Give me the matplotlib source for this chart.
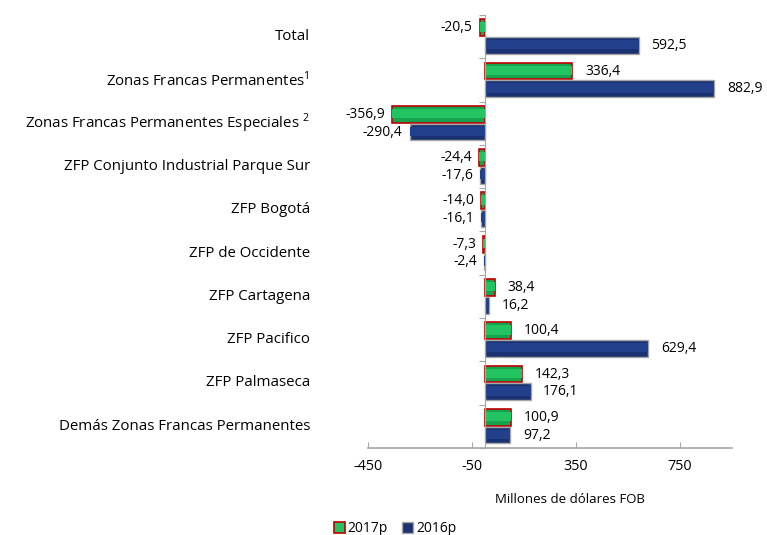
import matplotlib
matplotlib.use("Agg")
import matplotlib.pyplot as plt
from matplotlib.transforms import blended_transform_factory
from matplotlib.patches import Patch
import numpy as np

categories = ["Total",
              "Zonas Francas Permanentes$^{1}$",
              "Zonas Francas Permanentes Especiales $^{2}$",
              "ZFP Conjunto Industrial Parque Sur",
              "ZFP Bogotá",
              "ZFP de Occidente",
              "ZFP Cartagena",
              "ZFP Pacifico",
              "ZFP Palmaseca",
              "Demás Zonas Francas Permanentes"]
vals_2017 = [-20.5, 336.4, -356.9, -24.4, -14.0, -7.3, 38.4, 100.4, 142.3, 100.9]
vals_2016 = [592.5, 882.9, -290.4, -17.6, -16.1, -2.4, 16.2, 629.4, 176.1, 97.2]
xticks = [-450, -50, 350, 750]

plt.rcParams['font.family'] = ['Open Sans', 'DejaVu Sans']
plt.rcParams['mathtext.fontset'] = 'custom'
plt.rcParams['mathtext.rm'] = 'Open Sans'

fig = plt.figure(figsize=(7.67, 5.35), dpi=100)
ax = fig.add_axes([0.48, 0.163, 0.474, 0.809])

y = np.arange(len(categories))
h = 0.39
green = '#16A24F'
green_hi = '#22C462'
blue = '#1A3272'
blue_hi = '#22408C'

y17 = y - h / 2 - 0.01
y16 = y + h / 2 + 0.01
ax.barh(y17, vals_2017, height=h, color=green, edgecolor='#C00000', linewidth=1.2, label='2017p')
ax.barh(y16, vals_2016, height=h, color=blue, edgecolor='#A6A6A6', linewidth=1.0, label='2016p')
# lighter band to mimic the bevelled bars
ax.barh(y17 - h * 0.05, vals_2017, height=h * 0.55, color=green_hi, linewidth=0)
ax.barh(y16 - h * 0.05, vals_2016, height=h * 0.55, color=blue_hi, linewidth=0)

def fmt(v):
    return f"{v:.1f}".replace('.', ',')

for yy, v in zip(y17, vals_2017):
    ax.annotate(fmt(v), (v, yy), xytext=(9 if v >= 0 else -5, 0), textcoords='offset points',
                ha='left' if v >= 0 else 'right', va='center', fontsize=10)
for yy, v in zip(y16, vals_2016):
    ax.annotate(fmt(v), (v, yy), xytext=(9 if v >= 0 else -5, 0), textcoords='offset points',
                ha='left' if v >= 0 else 'right', va='center', fontsize=10)

# category labels on the left
trans = blended_transform_factory(ax.transAxes, ax.transData)
for yy, c in zip(y, categories):
    ax.text(-0.16, yy, c, transform=trans, ha='right', va='center', fontsize=10.8)

ax.set_xlim(-450, 950)
ax.set_ylim(len(categories) - 0.5, -0.5)
ax.set_xticks(xticks)
ax.set_xticklabels([str(t) for t in xticks], fontsize=10.4)
ax.tick_params(axis='x', direction='in', length=4, color='#A6A6A6', pad=8)

ax.spines['left'].set_position(('data', 0))
ax.set_yticks(np.arange(len(categories) + 1) - 0.5)
ax.set_yticklabels([])
ax.tick_params(axis='y', direction='out', length=4, color='#A6A6A6')
for s in ['top', 'right']:
    ax.spines[s].set_visible(False)
ax.spines['left'].set_color('#A6A6A6')
ax.spines['bottom'].set_color('#A6A6A6')
ax.spines['bottom'].set_linewidth(1.2)

ax.set_xlabel('Millones de dólares FOB', fontsize=9.5)
ax.xaxis.set_label_coords(0.555, -0.105)

handles = [Patch(facecolor=green_hi, edgecolor='#C00000', linewidth=1.2),
           Patch(facecolor=blue, edgecolor='#A6A6A6')]
fig.legend(handles, ['2017p', '2016p'], loc='center', bbox_to_anchor=(395 / 767, 0.012),
           ncol=2, frameon=False, fontsize=10, handlelength=0.8, handleheight=0.8,
           handletextpad=0.2, columnspacing=1.0)

fig.savefig('out.png', dpi=100)
